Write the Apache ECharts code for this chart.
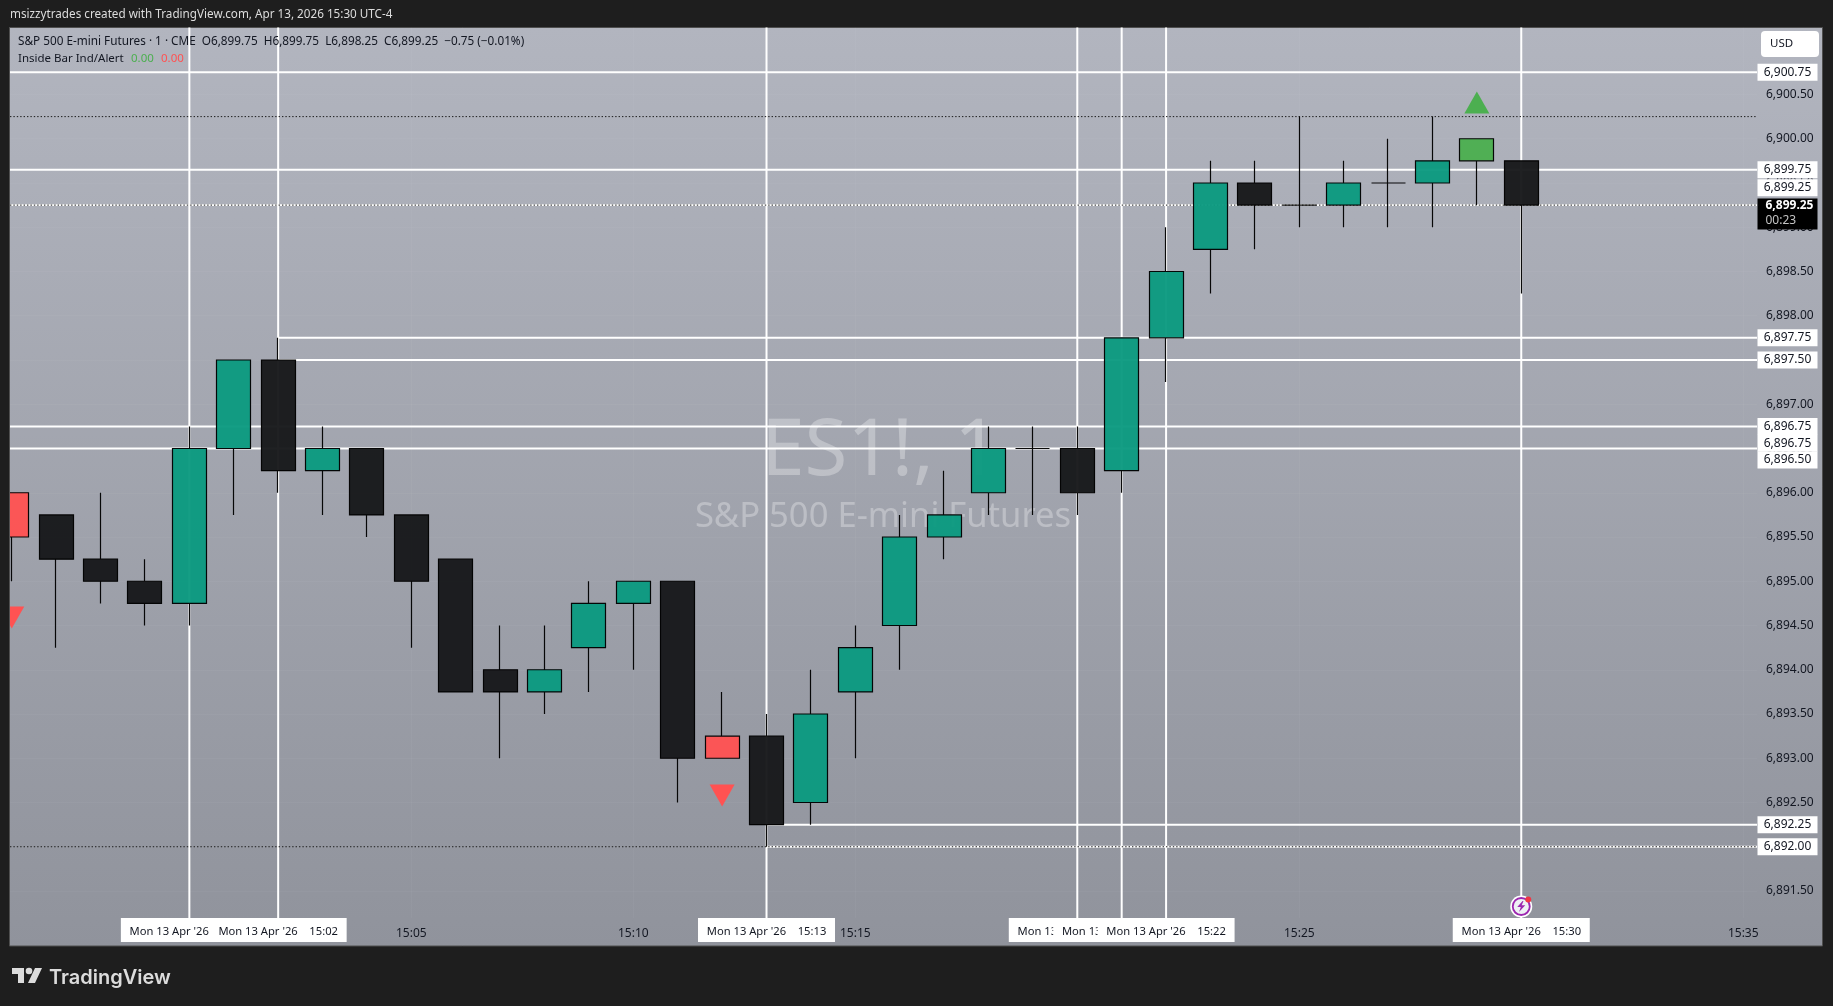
<!DOCTYPE html>
<html><head><meta charset="utf-8"><title>ES1! 1m</title>
<style>html,body{margin:0;padding:0;background:#1e1e1e;overflow:hidden}#c{width:1833px;height:1006px}</style>
<script src="https://cdn.jsdelivr.net/npm/echarts@6/dist/echarts.min.js"></script>
</head><body><div id="c"></div>
<script>
const times  = ['14:56','14:57','14:58','14:59','15:00','15:01','15:02','15:03','15:04','15:05','15:06','15:07','15:08','15:09','15:10','15:11','15:12','15:13','15:14','15:15','15:16','15:17','15:18','15:19','15:20','15:21','15:22','15:23','15:24','15:25','15:26','15:27','15:28','15:29','15:30'];
const opens  = [6896,6895.75,6895.25,6895,6894.75,6896.5,6897.5,6896.25,6896.5,6895.75,6895.25,6894,6893.75,6894.25,6894.75,6895,6893.25,6893.25,6892.5,6893.75,6894.5,6895.5,6896,6896.5,6896.5,6896.25,6897.75,6898.75,6899.5,6899.25,6899.25,6899.5,6899.5,6899.75,6899.75];
const closes = [6895.5,6895.25,6895,6894.75,6896.5,6897.5,6896.25,6896.5,6895.75,6895,6893.75,6893.75,6894,6894.75,6895,6893,6893,6892.25,6893.5,6894.25,6895.5,6895.75,6896.5,6896.5,6896,6897.75,6898.5,6899.5,6899.25,6899.25,6899.5,6899.5,6899.75,6900,6899.25];
const lows   = [6895,6894.25,6894.75,6894.5,6894.5,6895.75,6896,6895.75,6895.5,6894.25,6893.75,6893,6893.5,6893.75,6894,6892.5,6893,6892,6892.25,6893,6894,6895.25,6895.75,6895.75,6895.75,6896,6897.25,6898.25,6898.75,6899,6899,6899,6899,6899.25,6898.25];
const highs  = [6896,6895.75,6896,6895.25,6896.75,6897.5,6897.75,6896.75,6896.5,6895.75,6895.25,6894.5,6894.5,6895,6895,6895,6893.75,6893.5,6894,6894.5,6895.75,6896.25,6896.75,6896.75,6896.75,6897.75,6899,6899.75,6899.75,6900.25,6899.75,6900,6900.25,6900,6899.75];
const kinds  = ['red','black','black','black','teal','teal','black','teal','black','black','black','black','teal','teal','teal','black','red','black','teal','teal','teal','teal','teal','teal','black','teal','teal','teal','black','black','teal','teal','teal','green','black'];
const yTicks = [6891.5,6892,6892.5,6893,6893.5,6894,6894.5,6895,6895.5,6896,6896.5,6897,6897.5,6898,6898.5,6899,6899.5,6900,6900.5];
const xTicks = ['15:05','15:10','15:15','15:25','15:35'];
const fullLevels = [6900.75,6899.65,6896.75,6896.5];
const from1502Levels = [6897.75,6897.5];
const from1513Levels = [6892.25,6892];
const dottedLevels = [6900.25,6899.25,6892];
const priceLineLevel = 6899.25;
const verticalTimes = ['15:00','15:02','15:13','15:20','15:21','15:22','15:30'];
const priceTagPrices = [6900.75,6899.65,6899.445,6897.75,6897.5,6896.75,6896.56,6896.37,6892.25,6892];
const priceTagTexts = ['6,900.75','6,899.75','6,899.25','6,897.75','6,897.50','6,896.75','6,896.75','6,896.50','6,892.25','6,892.00'];
const lastPricePos = 6899.15, lastPriceText = '6,899.25', countdownText = '00:23';
const dateText = "Mon 13 Apr '26";
const alertsUp = [['15:29',6900.41]];
const alertsDown = [['14:56',6894.59],['15:12',6892.58]];
const iconTime = '15:30', iconPrice = 6891.325;
const headerText = 'msizzytrades created with TradingView.com, Apr 13, 2026 15:30 UTC-4';
const legendText = 'S&P 500 E-mini Futures · 1 · CME  O6,899.75  H6,899.75  L6,898.25  C6,899.25  −0.75 (−0.01%)';
const indicatorName = 'Inside Bar Ind/Alert', indicatorUp = '0.00', indicatorDown = '0.00';
const watermarkTop = 'ES1!, 1', watermarkBottom = 'S&P 500 E-mini Futures';

const FONT = '"Noto Sans", sans-serif';
const mins = t => { const [h,m] = t.split(':').map(Number); return (h-15)*60+m; };
const label2 = m => '15:' + String(m).padStart(2,'0');
const XMIN = -4.04, XMAX = 35.31, YMIN = 6891.195, YMAX = 6901.257;
const COLORS = {teal:'#0b9a80', black:'#17181a', red:'#ff5252', green:'#4caf50'};
const silent = {silent:true, animation:false};
const hline = (p, x0, w, color, type, z) => ({type:'line', ...silent, z:z||1, symbol:'none', clip:true,
  data:[[x0,p],[XMAX,p]], lineStyle:{color, width:w, type:type||'solid'}});
const series = [];
verticalTimes.forEach(t => series.push({type:'line', ...silent, z:1, symbol:'none',
  data:[[mins(t),YMIN],[mins(t),YMAX]], lineStyle:{color:'#fff', width:2}}));
fullLevels.forEach(p => series.push(hline(p, XMIN, 2, '#fff')));
from1502Levels.forEach(p => series.push(hline(p, mins('15:02'), 2, '#fff')));
from1513Levels.forEach(p => series.push(hline(p, mins('15:13'), 2, '#fff')));
series.push(hline(priceLineLevel, XMIN, 1.6, '#fff', 'solid', 1));
dottedLevels.forEach(p => series.push(hline(p, XMIN, 1, '#1a1a1a', [1.4,2], 1.5)));
series.push({type:'candlestick', ...silent, z:3, barWidth:34.5, clip:true,
  data: times.map((t,i) => ({
    value:[mins(t), opens[i], closes[i], lows[i], highs[i]],
    itemStyle:{color:COLORS[kinds[i]], color0:COLORS[kinds[i]], borderColor:'#000', borderColor0:'#000', borderColorDoji:'#000', borderWidth:1.2, opacity:0.96}
  }))});
series.push({type:'scatter', ...silent, z:4, symbol:'triangle', symbolSize:[25,22], itemStyle:{color:COLORS.green, opacity:1},
  data:alertsUp.map(a=>[mins(a[0]),a[1]])});
series.push({type:'scatter', ...silent, z:4, symbol:'triangle', symbolRotate:180, symbolSize:[25,22], itemStyle:{color:COLORS.red, opacity:1},
  data:alertsDown.map(a=>[mins(a[0]),a[1]])});
// time tags: later ones paint over earlier ones
verticalTimes.forEach((t,i) => series.push({type:'scatter', ...silent, z:6+i, clip:false, symbolSize:0, itemStyle:{opacity:1},
  data:[[mins(t),YMIN]],
  label:{show:true, position:'bottom', distance:0, formatter:dateText+'    '+t, width:137, height:20, lineHeight:20, padding:[4,0,0,0], align:'center', verticalAlign:'top',
    backgroundColor:'#fff', color:'#131722', fontFamily:FONT, fontSize:11.2, opacity:1}}));
// price tags
series.push({type:'scatter', ...silent, z:20, clip:false, symbolSize:0, itemStyle:{opacity:1},
  data:priceTagPrices.map((p,i)=>({value:[XMAX,p], tag:priceTagTexts[i]})),
  label:{show:true, position:'right', distance:30.5, formatter:p=>p.data.tag, width:60, height:17, lineHeight:17, align:'center', verticalAlign:'middle',
    backgroundColor:'#fff', color:'#131722', fontFamily:FONT, fontSize:12, opacity:1}});
series.push({type:'scatter', ...silent, z:21, clip:false, symbolSize:0, itemStyle:{opacity:1},
  data:[[XMAX,lastPricePos]],
  label:{show:true, position:'right', distance:0.5, formatter:'{a|'+lastPriceText+'}\n{b|'+countdownText+'}', width:60, height:31, align:'left', verticalAlign:'middle',
    backgroundColor:'#000', padding:0, opacity:1,
    rich:{a:{color:'#fff', fontWeight:'bold', fontSize:12, fontFamily:FONT, lineHeight:15, padding:[0,0,0,8]},
          b:{color:'#c4c4c4', fontSize:12, fontFamily:FONT, lineHeight:15, padding:[0,0,0,8]}}}});
// alert icon
series.push({type:'scatter', ...silent, z:25, clip:false, symbol:'circle', symbolSize:22, itemStyle:{color:'#fff', opacity:1}, data:[[mins(iconTime),iconPrice]]});
series.push({type:'scatter', ...silent, z:26, clip:false, symbol:'circle', symbolSize:17, itemStyle:{color:'#eef0f4', borderColor:'#9c27b0', borderWidth:1.8, opacity:1}, data:[[mins(iconTime),iconPrice]]});
series.push({type:'scatter', ...silent, z:27, clip:false, symbol:'path://M7 0L1 10H5L3 18L10 7H6L8 0Z', symbolSize:[8,11], itemStyle:{color:'#9c27b0', opacity:1}, data:[[mins(iconTime),iconPrice]]});
series.push({type:'scatter', ...silent, z:28, clip:false, symbol:'circle', symbolSize:6, symbolOffset:[7,-7], itemStyle:{color:'#f23645', opacity:1}, data:[[mins(iconTime),iconPrice]]});

const chart = echarts.init(document.getElementById('c'), null, {renderer:'canvas', width:1833, height:1006});
chart.setOption({
  animation:false,
  backgroundColor:'#1e1e1e',
  grid:{left:10, right:76, top:27.5, bottom:88, containLabel:false},
  tooltip:{show:false},
  xAxis:{type:'value', min:XMIN, max:XMAX, silent:true,
    axisLine:{show:false}, axisTick:{show:false, customValues:xTicks.map(mins)},
    splitLine:{show:true, lineStyle:{color:'rgba(255,255,255,0.035)', width:1}},
    axisLabel:{show:true, customValues:xTicks.map(mins), formatter:v=>label2(v), color:'#131722', fontFamily:FONT, fontSize:12, margin:10, hideOverlap:false}},
  yAxis:{type:'value', min:YMIN, max:YMAX, position:'right', silent:true, scale:true,
    axisLine:{show:false}, axisTick:{show:false, customValues:yTicks},
    splitLine:{show:true, lineStyle:{color:'rgba(255,255,255,0.035)', width:1}},
    axisLabel:{show:true, customValues:yTicks, formatter:v=>v.toLocaleString('en-US',{minimumFractionDigits:2,maximumFractionDigits:2}), color:'#131722', fontFamily:FONT, fontSize:12, margin:9, hideOverlap:false}},
  graphic:[
    {type:'rect', z:-10, silent:true, shape:{x:9.5,y:27.5,width:1813,height:918.5}, style:{stroke:'#4f4f4f', lineWidth:1,
      fill:new echarts.graphic.LinearGradient(0,0,0,1,[{offset:0,color:'#b2b5bf'},{offset:1,color:'#90939c'}])}},
    {type:'text', z:-5, silent:true, x:880, y:453, style:{text:watermarkTop, font:'78px '+FONT, fill:'rgba(255,255,255,0.3)', textAlign:'center', textVerticalAlign:'middle'}},
    {type:'text', z:-5, silent:true, x:883, y:517, style:{text:watermarkBottom, font:'34.6px '+FONT, fill:'rgba(255,255,255,0.3)', textAlign:'center', textVerticalAlign:'middle'}},
    {type:'rect', z:100, silent:true, shape:{x:0,y:27,width:9,height:919}, style:{fill:'#1e1e1e'}},
    {type:'rect', z:100, silent:true, shape:{x:9,y:27,width:1,height:919}, style:{fill:'#4f4f4f'}},
    {type:'rect', z:100, silent:true, shape:{x:1761,y:31,width:58,height:26,r:4}, style:{fill:'#fff'}},
    {type:'text', z:101, silent:true, x:1770, y:44, style:{text:'USD', font:'11.5px '+FONT, fill:'#131722', textVerticalAlign:'middle'}},
    {type:'text', z:101, silent:true, x:10, y:15, style:{text:headerText, font:'11.7px '+FONT, fill:'#dcdcdc', textVerticalAlign:'middle'}},
    {type:'text', z:101, silent:true, x:18, y:42, style:{text:legendText, font:'11.75px '+FONT, fill:'#131722', textVerticalAlign:'middle'}},
    {type:'text', z:101, silent:true, x:18, y:59, style:{text:indicatorName, font:'11.5px '+FONT, fill:'#131722', textVerticalAlign:'middle'}},
    {type:'text', z:101, silent:true, x:131, y:59, style:{text:indicatorUp, font:'11.5px '+FONT, fill:'#4caf50', textVerticalAlign:'middle'}},
    {type:'text', z:101, silent:true, x:161, y:59, style:{text:indicatorDown, font:'11.5px '+FONT, fill:'#ff5252', textVerticalAlign:'middle'}},
    {type:'polygon', z:101, silent:true, shape:{points:[[12,968],[24,968],[24,983],[18,983],[18,974],[12,974]]}, style:{fill:'#dcdcdc'}},
    {type:'polygon', z:101, silent:true, shape:{points:[[35,968],[42,968],[35,983],[28,983]]}, style:{fill:'#dcdcdc'}},
    {type:'circle', z:101, silent:true, shape:{cx:29,cy:971,r:3.3}, style:{fill:'#dcdcdc'}},
    {type:'text', z:101, silent:true, x:49, y:977.5, style:{text:'TradingView', font:'600 20px Inter, '+FONT, fill:'#dcdcdc', textVerticalAlign:'middle'}}
  ],
  series
});
</script></body></html>
